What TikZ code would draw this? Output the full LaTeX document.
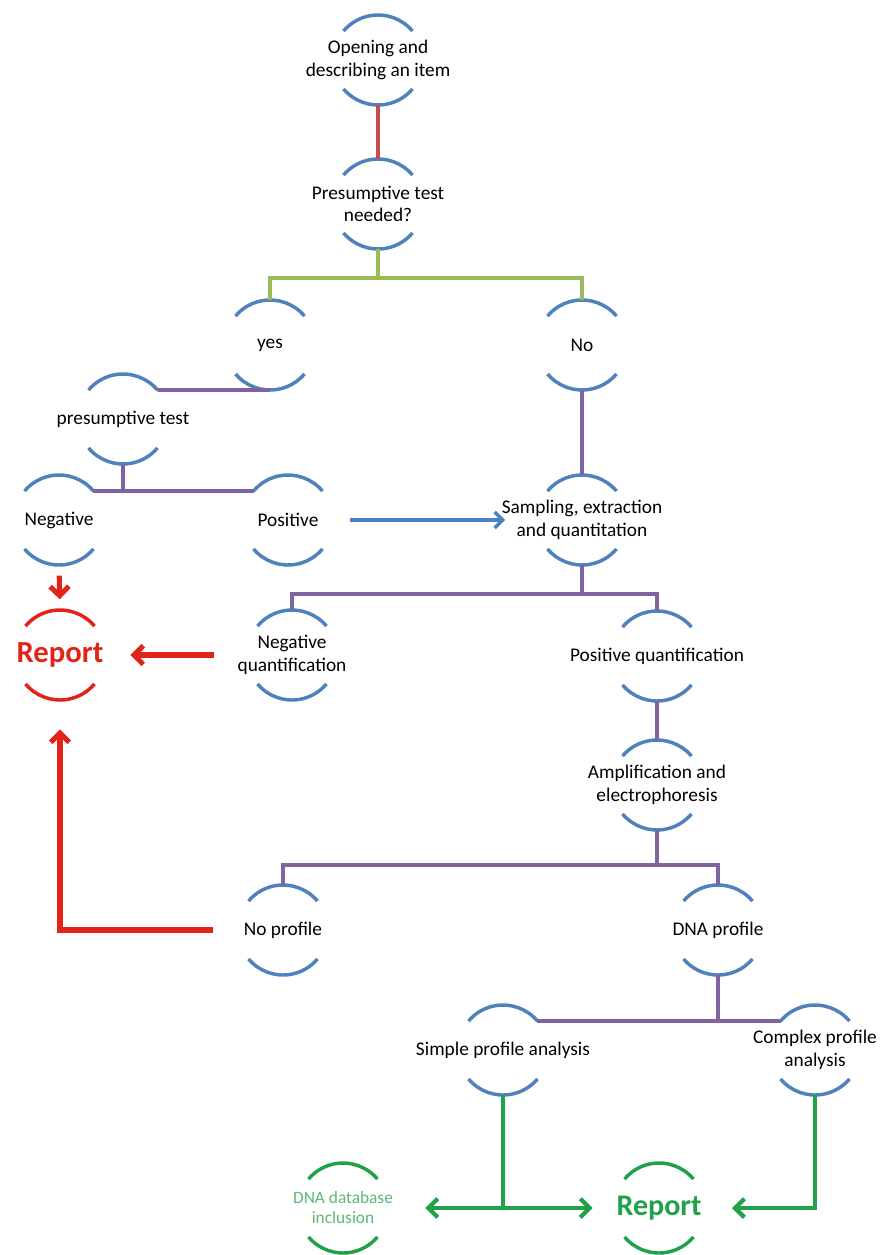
\documentclass[tikz,border=0pt]{standalone}
\usepackage{fontspec}
\setmainfont{Carlito}
\usetikzlibrary{arrows.meta}
\newcommand{\ringrad}{33.75pt}
\definecolor{arcblue}{HTML}{4F81BD}
\definecolor{purpleline}{HTML}{8064A2}
\definecolor{limeline}{HTML}{9BBB59}
\definecolor{brickline}{HTML}{C0504D}
\definecolor{alarmred}{HTML}{E2231A}
\definecolor{okgreen}{HTML}{21A24A}
\definecolor{softgreen}{HTML}{5AB878}

\begin{document}
\begin{tikzpicture}[x=0.75pt, y=-0.75pt,
    ring/.style={circle, minimum size=2*\ringrad, inner sep=0pt, outer sep=0pt,
        append after command={\pgfextra{\let\ringnode\tikzlastnode
            \draw[line width=2.6pt, #1] (\ringnode.40) arc[start angle=40, end angle=140, radius=\ringrad]
                (\ringnode.220) arc[start angle=220, end angle=320, radius=\ringrad];}}},
    ring/.default=arcblue,
    txt/.style={align=center, inner sep=0pt, font=\fontsize{14.5}{17}\selectfont},
    conn/.style={line width=2.8pt, purpleline},
    redarrow/.style={line width=3.8pt, alarmred, -{Straight Barb[length=7pt, width=14pt]}},
    greenarrow/.style={line width=3.2pt, okgreen, -{Straight Barb[length=7pt, width=14pt]}}]
    \useasboundingbox (0,0) rectangle (879,1255);

    % Top
    \node[ring, label={[txt]center:Opening and\\describing an item}] (open) at (378,60) {};
    \node[ring, label={[txt]center:Presumptive test\\needed?}] (pres) at (378,204) {};
    \node[ring, label={[txt]center:yes}] (yes) at (270,345) {};
    \node[ring, label={[txt]center:No}] (no) at (582,345) {};

    % Presumptive branch
    \node[ring, label={[txt]center:presumptive test}] (pt) at (123,419) {};
    \node[ring, label={[txt]center:Negative}] (neg) at (59,520) {};
    \node[ring, label={[txt]center:Positive}] (pos) at (288,520) {};
    \node[ring, label={[txt]center:Sampling, extraction\\and quantitation}] (samp) at (582,520) {};
    \node[ring=alarmred, label={[txt, font=\fontsize{23}{26}\bfseries, text=alarmred]center:Report}] (rep) at (60,655) {};
    \node[ring, label={[txt]center:Negative\\quantification}] (negq) at (292,655) {};
    \node[ring, label={[txt]center:Positive quantification}] (posq) at (657,656) {};

    % Profiles
    \node[ring, label={[txt]center:Amplification and\\electrophoresis}] (amp) at (657,785) {};
    \node[ring, label={[txt]center:No profile}] (nop) at (283,930) {};
    \node[ring, label={[txt]center:DNA profile}] (dnap) at (718,930) {};
    \node[ring, label={[txt]center:Simple profile analysis}] (simp) at (503,1050) {};
    \node[ring, label={[txt]center:Complex profile\\analysis}] (comp) at (815,1050) {};
    \node[ring=okgreen, label={[txt, font=\fontsize{13}{15}\selectfont, text=softgreen]center:DNA database\\inclusion}] (dbi) at (343,1208) {};
    \node[ring=okgreen, label={[txt, font=\fontsize{22.5}{25}\bfseries, text=okgreen]center:Report}] (grep) at (659,1208) {};

    % Connectors
    \draw[conn, brickline] (open.south) -- (pres.north);
    \draw[conn, limeline] (pres.south) -- ++(0,29) coordinate (split1);
    \draw[conn, limeline] (yes.north) |- (split1) -| (no.north);
    \draw[conn] (yes.south) -- (pt.40);
    \draw[conn] (neg.40) -- (pos.140);
    \draw[conn] (pt.south) -- (pt.south |- neg.40);
    \draw[line width=2.6pt, arcblue, -{Straight Barb[length=6pt, width=12pt]}, shorten <=13pt, shorten >=24pt] (pos) -- (samp);
    \draw[conn] (no.south) -- (samp.north);
    \draw[conn] (samp.south) -- ++(0,29) coordinate (split2);
    \draw[conn] (negq.north) |- (split2) -| (posq.north);
    \draw[redarrow, shorten <=8pt, shorten >=8pt] (neg.south) -- (rep.north);
    \draw[redarrow, shorten <=25pt, shorten >=19pt] (negq) -- (rep);
    \draw[conn] (posq.south) -- (amp.north);
    \draw[conn] (amp.south) -- ++(0,35) coordinate (split3);
    \draw[conn] (nop.north) |- (split3) -| (dnap.north);
    \draw[redarrow, shorten <=19pt, shorten >=22pt] (nop.west) -| (rep.south);
    \draw[conn] (simp.40) -- (comp.140);
    \draw[conn] (dnap.south) -- (dnap.south |- simp.40);
    \draw[greenarrow, -] (simp.south) -- (simp.south |- dbi) coordinate (split4);
    \draw[greenarrow, shorten >=28pt] (split4) -- (dbi);
    \draw[greenarrow, shorten >=16pt] (split4) -- (grep);
    \draw[greenarrow, shorten >=21pt] (comp.south) |- (grep.east);
\end{tikzpicture}
\end{document}
